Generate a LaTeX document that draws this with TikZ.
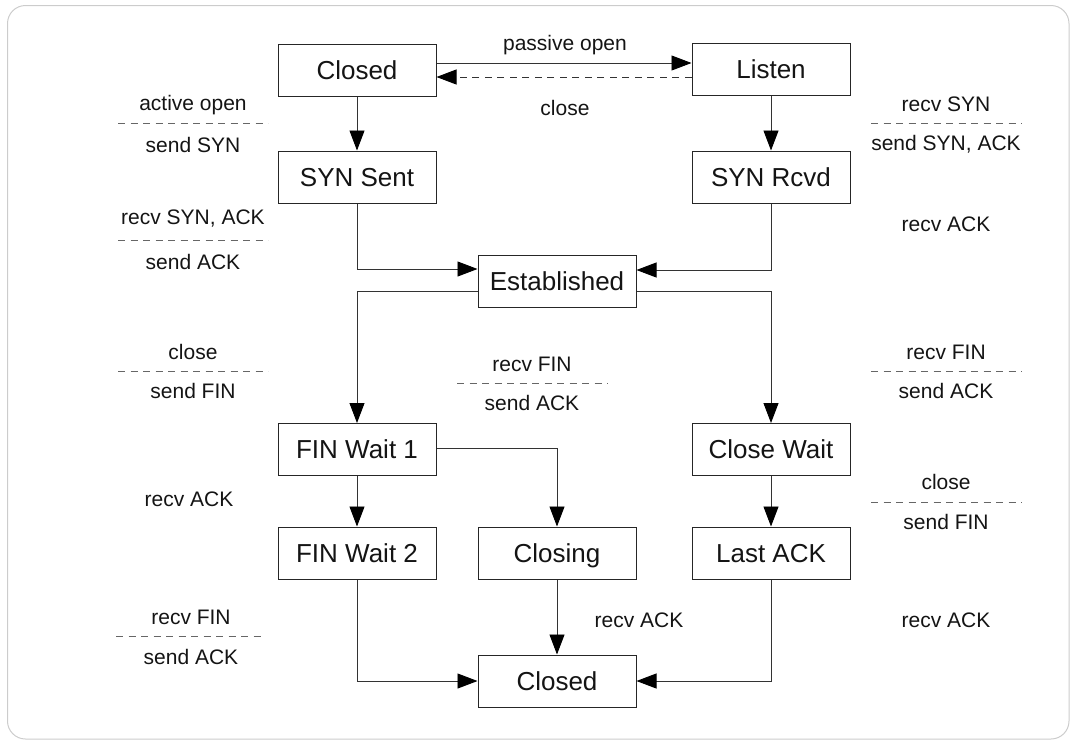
\documentclass[tikz,border=0pt]{standalone}
\usepackage{fontspec}
\setmainfont{Liberation Sans}
\usetikzlibrary{arrows.meta}

\begin{document}
\begin{tikzpicture}[x=1pt,y=-1pt,
  state/.style={draw=black!85, line width=1pt, fill=white,
    minimum width=158pt, minimum height=52pt, inner sep=0pt,
    text height=18.7pt, text depth=0pt,
    font=\fontsize{26}{30}\selectfont, text=black!92},
  lbl/.style={inner sep=0pt, font=\fontsize{21}{25}\selectfont, text=black!92},
  edge/.style={draw=black!80, line width=0.9pt,
    -{Triangle[length=20pt,width=15pt,color=black,fill=black]}},
  dashedge/.style={edge, dash pattern=on 7pt off 5.5pt},
  sep/.style={draw=black!60, line width=0.9pt, dash pattern=on 7pt off 5.5pt},
]
\useasboundingbox (0,0) rectangle (1070,740);

% outer frame
\draw[gray!40, line width=1pt, rounded corners=18pt] (7.5,5.5) rectangle (1069,739);

% states
\node[state] (closedT)  at (357,70)  {Closed};
\node[state] (listen)   at (771,69)  {Listen};
\node[state] (synsent)  at (357,177) {SYN Sent};
\node[state] (synrcvd)  at (771,177) {SYN Rcvd};
\node[state] (est)      at (557,281) {Established};
\node[state] (finw1)    at (357,449.5) {FIN Wait 1};
\node[state] (closew)   at (771,449.5) {Close Wait};
\node[state] (finw2)    at (357,553) {FIN Wait 2};
\node[state] (closing)  at (557,553) {Closing};
\node[state] (lastack)  at (771,553) {Last ACK};
\node[state] (closedB)  at (557,681) {Closed};

% transitions
\draw[edge] ([yshift=7pt]closedT.east) -- ([yshift=7pt]closedT.east -| listen.west);
\draw[dashedge] ([yshift=-8pt]listen.west) -- ([yshift=-8pt]listen.west -| closedT.east);
\draw[edge] (closedT) -- (synsent);
\draw[edge] (listen) -- (synrcvd);
\draw[edge] (synsent.south) |- ([yshift=12pt]est.west);
\draw[edge] (synrcvd.south) |- ([yshift=11pt]est.east);
\draw[edge] ([yshift=-10pt]est.west) -| (finw1.north);
\draw[edge] ([yshift=-10pt]est.east) -| (closew.north);
\draw[edge] (finw1) -- (finw2);
\draw[edge] ([yshift=1.5pt]finw1.east) -| (closing.north);
\draw[edge] (closew) -- (lastack);
\draw[edge] (finw2.south) |- (closedB.west);
\draw[edge] (closing) -- (closedB);
\draw[edge] (lastack.south) |- (closedB.east);

% top labels
\node[lbl] (lpo) at (565,45)  {passive open};
\node[lbl] (lcl) at (565,108) {close};

% left column labels
\node[lbl] (l1a) at (193,105) {active open};
\draw[sep] (118,123) -- (268,123);
\node[lbl] (l1b) at (193,145) {send SYN};

\node[lbl] (l2a) at (193,219) {recv SYN, ACK};
\draw[sep] (118,240) -- (268,240);
\node[lbl] (l2b) at (193,262) {send ACK};

\node[lbl] (l3a) at (193,352) {close};
\draw[sep] (118,371) -- (268,371);
\node[lbl] (l3b) at (193,391) {send FIN};

\node[lbl] (l4)  at (189,499) {recv ACK};

\node[lbl] (l5a) at (191,617) {recv FIN};
\draw[sep] (116,636) -- (266,636);
\node[lbl] (l5b) at (191,657) {send ACK};

% middle labels
\node[lbl] (m1a) at (532,364) {recv FIN};
\draw[sep] (457,383) -- (608,383);
\node[lbl] (m1b) at (532,403) {send ACK};

\node[lbl] (m2)  at (639,620) {recv ACK};

% right column labels
\node[lbl] (r1a) at (946,104) {recv SYN};
\draw[sep] (871,123) -- (1022,123);
\node[lbl] (r1b) at (946,144) {send SYN, ACK};

\node[lbl] (r2)  at (946,224) {recv ACK};

\node[lbl] (r3a) at (946,352) {recv FIN};
\draw[sep] (871,371) -- (1022,371);
\node[lbl] (r3b) at (946,391) {send ACK};

\node[lbl] (r4a) at (946,482) {close};
\draw[sep] (871,502) -- (1022,502);
\node[lbl] (r4b) at (946,522) {send FIN};

\node[lbl] (r5)  at (946,620) {recv ACK};
\end{tikzpicture}
\end{document}
